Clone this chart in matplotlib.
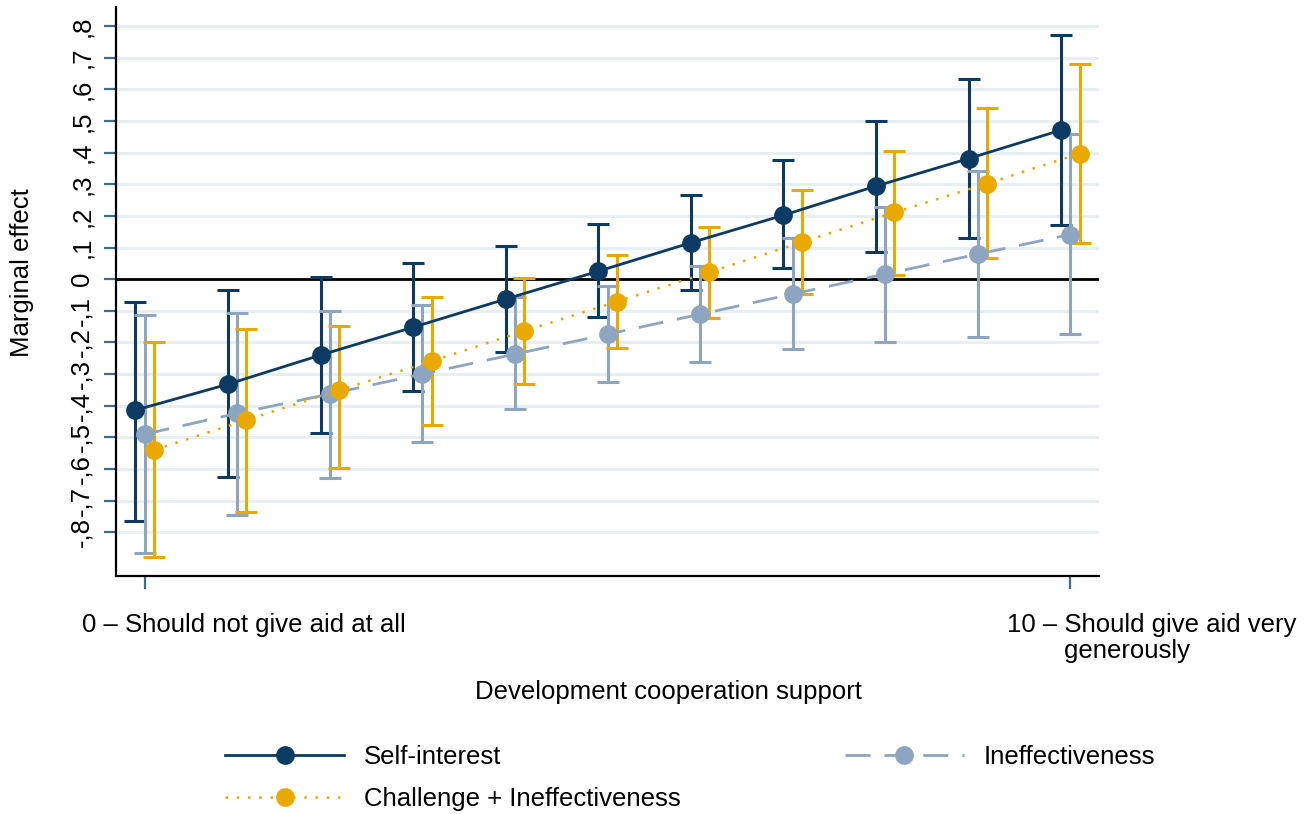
import matplotlib
matplotlib.use("Agg")
import matplotlib.pyplot as plt
import matplotlib.transforms as mtransforms
import numpy as np

plt.rcParams["font.family"] = ["Liberation Sans", "DejaVu Sans"]

# support scale 0..10
support = np.arange(11)

# Self-interest
si_mean = [-0.414, -0.332, -0.240, -0.152, -0.063, 0.025, 0.115, 0.202, 0.294, 0.381, 0.471]
si_lo = [-0.763, -0.624, -0.486, -0.354, -0.231, -0.120, -0.034, 0.035, 0.086, 0.130, 0.171]
si_hi = [-0.073, -0.035, 0.006, 0.050, 0.105, 0.175, 0.265, 0.376, 0.500, 0.633, 0.772]

# Ineffectiveness
ie_mean = [-0.490, -0.424, -0.363, -0.300, -0.237, -0.174, -0.111, -0.047, 0.016, 0.079, 0.141]
ie_lo = [-0.864, -0.746, -0.628, -0.515, -0.410, -0.325, -0.261, -0.221, -0.198, -0.184, -0.174]
ie_hi = [-0.112, -0.106, -0.100, -0.082, -0.056, -0.022, 0.042, 0.130, 0.228, 0.342, 0.460]

# Challenge + Ineffectiveness
ch_mean = [-0.540, -0.445, -0.351, -0.259, -0.164, -0.071, 0.022, 0.117, 0.211, 0.302, 0.397]
ch_lo = [-0.879, -0.737, -0.597, -0.461, -0.332, -0.218, -0.122, -0.047, 0.014, 0.066, 0.113]
ch_hi = [-0.199, -0.156, -0.148, -0.057, 0.004, 0.076, 0.165, 0.281, 0.405, 0.541, 0.681]

yticks = np.round(np.arange(-0.8, 0.81, 0.1), 1)
ytick_labels = ["0" if v == 0 else ("-" if v < 0 else "") + "," + str(int(round(abs(v) * 10)))
                for v in yticks]
xtick_pos = [0, 10]
xtick_labels = ["0 \u2013 Should not give aid at all",
                "10 \u2013 Should give aid very\n        generously"]

NAVY = "#0c3a63"
GREY = "#8da5c0"
ORANGE = "#e9a900"
FS = 18.5

fig = plt.figure(figsize=(13.09, 8.14), dpi=100)
ax = fig.add_axes([0.0886, 0.2924, 0.7510, 0.6990])

ax.set_xlim(-0.31, 10.31)
ax.set_ylim(-0.938, 0.86)

for v in yticks:
    ax.axhline(v, color="#e7eff2", lw=2.2, zorder=0)
ax.axhline(0, color="black", lw=2, zorder=1)


def series(offset, mean, lo, hi, color, ls, label):
    x = support + offset
    mean = np.array(mean)
    err = [mean - np.array(lo), np.array(hi) - mean]
    ax.errorbar(x, mean, yerr=err, fmt="none", ecolor=color, elinewidth=2.2,
                capsize=8, capthick=2.2, zorder=2)
    line, = ax.plot(x, mean, color=color, marker="o", markersize=13.5,
                    markeredgewidth=0, lw=2 if ls != ":" else 1.8, zorder=3,
                    label=label)
    if ls == "--":
        line.set_dashes([9, 5])
    elif ls == ":":
        line.set_dashes([1, 3.5])
    return line


h_si = series(-0.1, si_mean, si_lo, si_hi, NAVY, "-", "Self-interest")
h_ie = series(0.0, ie_mean, ie_lo, ie_hi, GREY, "--", "Ineffectiveness")
h_ch = series(0.1, ch_mean, ch_lo, ch_hi, ORANGE, ":", "Challenge + Ineffectiveness")

ax.set_yticks(yticks)
ax.set_yticklabels(ytick_labels, rotation=90, va="center", fontsize=FS)
ax.set_xticks(xtick_pos)
ax.set_xticklabels([])
# x tick labels: left-aligned a bit before the tick, as in the original
shift = mtransforms.ScaledTranslation(-63 / 100, -37 / 100, fig.dpi_scale_trans)
for xp, lab in zip(xtick_pos, xtick_labels):
    ax.text(xp, 0, lab, transform=ax.get_xaxis_transform() + shift,
            ha="left", va="top", fontsize=FS, linespacing=1.1,
            multialignment="left")

ax.tick_params(axis="both", colors="#3b6d93", length=9, width=1.6, labelcolor="black")
ax.tick_params(axis="y", pad=7)

for side in ("top", "right"):
    ax.spines[side].set_visible(False)
for side in ("left", "bottom"):
    ax.spines[side].set_linewidth(1.6)
    ax.spines[side].set_color("black")

ax.set_ylabel("Marginal effect", fontsize=FS)
ax.yaxis.set_label_coords(-0.083, 0.533)
ax.set_xlabel("Development cooperation support", fontsize=FS)
ax.xaxis.set_label_coords(0.5616, -0.183)

fig.legend(handles=[h_si, h_ch, h_ie], ncol=2, frameon=False, fontsize=FS,
           loc="center", bbox_to_anchor=(690.5 / 1309, 1 - 778 / 814),
           handlelength=4.6, handletextpad=0.8, columnspacing=6.4,
           labelspacing=0.7, borderpad=0)

fig.savefig("out.png", dpi=100)
